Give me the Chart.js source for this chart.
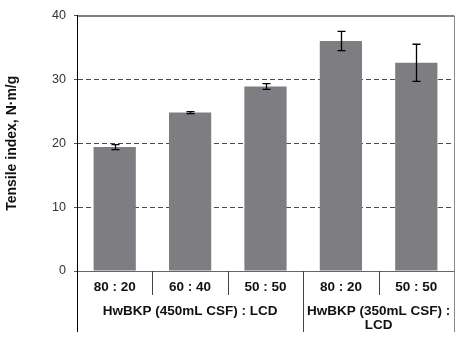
<!DOCTYPE html>
<html>
<head>
<meta charset="utf-8">
<script src="https://cdn.jsdelivr.net/npm/chart.js@4/dist/chart.umd.min.js"></script>
<style>
  html, body { margin: 0; padding: 0; background: #fff; }
  #wrap { width: 462px; height: 340px; }
</style>
</head>
<body>
<div id="wrap"><canvas id="c" width="462" height="340"></canvas></div>
<script>
// data
const categories = ['80 : 20', '60 : 40', '50 : 50', '80 : 20', '50 : 50'];
const tensile = [19.4, 24.8, 28.9, 36.0, 32.6];
const errors = [0.4, 0.15, 0.45, 1.5, 2.9];
const groups = [
  { label: ['HwBKP (450mL CSF) : LCD'], from: 0, to: 2 },
  { label: ['HwBKP (350mL CSF) :', 'LCD'], from: 3, to: 4 }
];
const yTicks = [0, 10, 20, 30, 40];

const FONT = 'Liberation Sans, Arial, sans-serif';

// error bars with caps
const errorBars = {
  id: 'errorBars',
  afterDatasetsDraw(chart) {
    const ctx = chart.ctx, x = chart.scales.x, y = chart.scales.y;
    ctx.save();
    ctx.strokeStyle = '#000';
    ctx.lineWidth = 1.3;
    tensile.forEach((v, i) => {
      const px = Math.round(x.getPixelForValue(i)) + 0.5;
      const top = y.getPixelForValue(v + errors[i]);
      const bot = y.getPixelForValue(v - errors[i]);
      ctx.beginPath();
      ctx.moveTo(px, top); ctx.lineTo(px, bot);
      ctx.moveTo(px - 4, top); ctx.lineTo(px + 4, top);
      ctx.moveTo(px - 4, bot); ctx.lineTo(px + 4, bot);
      ctx.stroke();
    });
    ctx.restore();
  }
};

// frame, category separators and group labels below the axis
const frame = {
  id: 'frame',
  afterDraw(chart) {
    const ctx = chart.ctx, a = chart.chartArea;
    const step = (a.right - a.left) / categories.length;
    const low = 332;
    ctx.save();
    ctx.setLineDash([]);
    ctx.lineWidth = 1;
    // top border
    ctx.strokeStyle = '#000';
    ctx.beginPath();
    ctx.moveTo(a.left, a.top + 0.5); ctx.lineTo(a.right, a.top + 0.5);
    ctx.stroke();
    // right border
    ctx.strokeStyle = '#888';
    ctx.beginPath();
    ctx.moveTo(a.right + 0.5, a.top); ctx.lineTo(a.right + 0.5, low);
    ctx.stroke();
    // left axis extended
    ctx.strokeStyle = '#000';
    ctx.beginPath();
    ctx.moveTo(a.left + 0.5, a.top); ctx.lineTo(a.left + 0.5, low);
    ctx.stroke();
    // separators
    ctx.strokeStyle = '#444';
    for (let i = 1; i < categories.length; i++) {
      const sx = Math.round(a.left + step * i) + 0.5;
      const isGroup = groups.some(g => g.from === i);
      ctx.beginPath();
      ctx.moveTo(sx, a.bottom); ctx.lineTo(sx, isGroup ? low : 295);
      ctx.stroke();
    }
    // group labels
    ctx.fillStyle = '#111';
    ctx.font = 'bold 13.5px ' + FONT;
    ctx.textAlign = 'center';
    ctx.textBaseline = 'middle';
    groups.forEach(g => {
      const cx = (a.left + step * g.from + a.left + step * (g.to + 1)) / 2;
      g.label.forEach((line, j) => ctx.fillText(line, cx, 311 + j * 14));
    });
    ctx.restore();
  }
};

new Chart(document.getElementById('c'), {
  type: 'bar',
  data: {
    labels: categories,
    datasets: [{
      data: tensile,
      backgroundColor: '#7d7d82',
      borderWidth: 0,
      categoryPercentage: 1,
      barPercentage: 0.56
    }]
  },
  options: {
    responsive: false,
    animation: false,
    devicePixelRatio: 1,
    layout: { padding: { left: 0, right: 8, top: 12, bottom: 0 } },
    plugins: { legend: { display: false }, tooltip: { enabled: false } },
    scales: {
      x: {
        grid: { display: false, drawTicks: false },
        border: { display: true, color: '#666', width: 1 },
        ticks: {
          color: '#111',
          font: { family: FONT, size: 13.5, weight: 'bold' },
          padding: 8,
          maxRotation: 0
        },
        afterFit(s) { s.height = 69; }
      },
      y: {
        min: 0,
        max: 40,
        afterBuildTicks(s) { s.ticks = yTicks.map(v => ({ value: v })); },
        grid: {
          color: ctx => (ctx.tick && (ctx.tick.value === 0 || ctx.tick.value === 40)) ? 'rgba(0,0,0,0)' : '#4a4a4a',
          tickColor: '#555',
          tickLength: 3,
          lineWidth: 1
        },
        border: { display: true, color: '#000', dash: [5, 3] },
        ticks: {
          color: '#333',
          font: { family: FONT, size: 12.5 },
          padding: 8
        },
        title: {
          display: true,
          text: 'Tensile index, N·m/g',
          color: '#111',
          font: { family: FONT, size: 14, weight: 'bold' },
          padding: { top: 4, bottom: 0 }
        },
        afterFit(s) { s.width = 77; }
      }
    }
  },
  plugins: [errorBars, frame]
});
</script>
</body>
</html>
